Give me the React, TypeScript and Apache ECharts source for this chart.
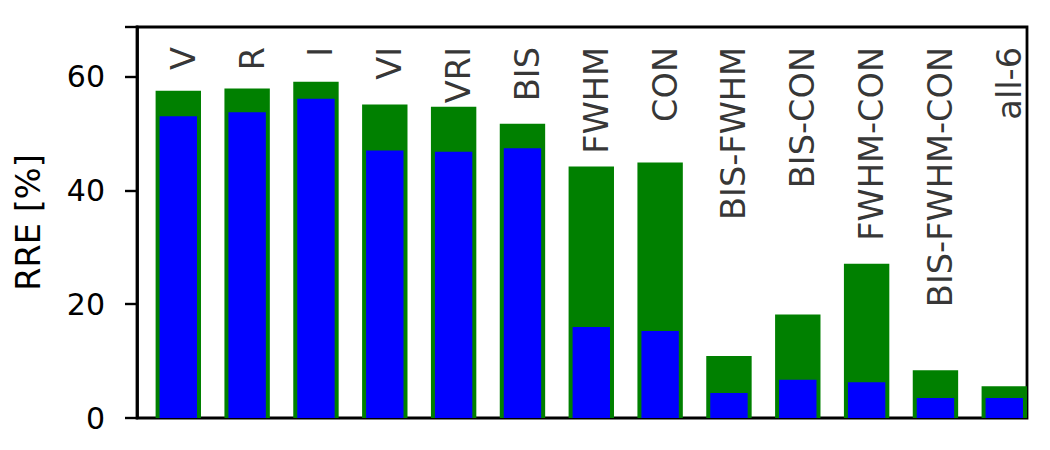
import React, { useEffect, useRef } from "react";
import * as echarts from "echarts";

const categories = ["V", "R", "I", "VI", "VRI", "BIS", "FWHM", "CON", "BIS-FWHM", "BIS-CON", "FWHM-CON", "BIS-FWHM-CON", "all-6"];
const greenValues = [57.5, 57.9, 59.1, 55.1, 54.7, 51.7, 44.2, 44.9, 10.9, 18.2, 27.1, 8.4, 5.6];
const blueValues = [53.0, 53.7, 56.1, 47.0, 46.8, 47.4, 16.0, 15.3, 4.4, 6.7, 6.3, 3.5, 3.5];
const yTicks = [0, 20, 40, 60];
const labelLevel = 65.2;

export default function App() {
  const ref = useRef<HTMLDivElement>(null);
  useEffect(() => {
    if (!ref.current) return;
    const chart = echarts.init(ref.current, null, { renderer: "svg" });
    const font = "DejaVu Sans";
    const xBase = {
      type: "value" as const,
      min: -0.6,
      max: 12.33,
      show: false,
    };
    chart.setOption({
      animation: false,
      textStyle: { fontFamily: font },
      grid: {
        left: 137,
        right: 23,
        top: 27,
        bottom: 32,
        show: true,
        borderColor: "#000",
        borderWidth: 2.8,
        backgroundColor: "#fff",
      },
      xAxis: [{ ...xBase }, { ...xBase }],
      yAxis: {
        type: "value",
        min: 0,
        max: 68.7,
        interval: 20,
        name: "RRE [%]",
        nameLocation: "middle",
        nameGap: 92,
        nameTextStyle: { fontSize: 33.6, color: "#000", fontFamily: font },
        axisLine: { show: true, onZero: false, lineStyle: { color: "#000", width: 2.8 } },
        axisTick: { show: true, length: 12, lineStyle: { color: "#000", width: 2.4 } },
        axisLabel: {
          fontSize: 30,
          color: "#000",
          fontFamily: font,
          margin: 32,
          formatter: (v: number) => (yTicks.includes(v) ? String(v) : ""),
        },
        splitLine: { show: false },
      },
      series: [
        {
          type: "bar",
          xAxisIndex: 0,
          barWidth: 45.4,
          data: greenValues.map((v, i) => [i, v]),
          itemStyle: { color: "#008000" },
        },
        {
          type: "bar",
          xAxisIndex: 1,
          barWidth: 37.4,
          data: blueValues.map((v, i) => [i, v]),
          itemStyle: { color: "#0000ff" },
        },
        {
          type: "scatter",
          xAxisIndex: 0,
          symbolSize: 0,
          data: categories.map((_, i) => [i, labelLevel]),
          label: {
            show: true,
            position: "inside",
            rotate: 90,
            align: "right",
            verticalAlign: "middle",
            offset: [0, 5],
            fontSize: 33.6,
            color: "#000",
            fontFamily: font,
            formatter: (p: any) => categories[p.dataIndex],
          },
          silent: true,
        },
      ],
    });
    return () => chart.dispose();
  }, []);
  return (
    <div
      ref={ref}
      style={{ position: "fixed", left: 0, top: 0, width: 1050, height: 450, background: "#fff" }}
    />
  );
}
